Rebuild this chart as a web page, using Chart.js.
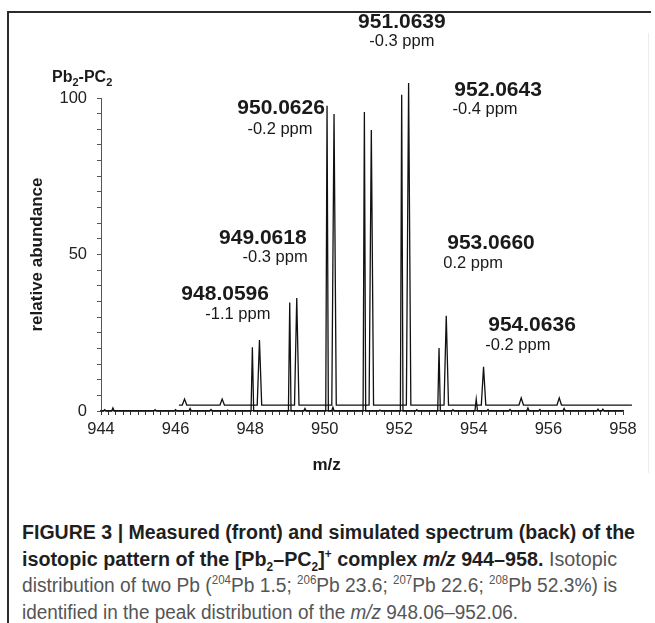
<!DOCTYPE html>
<html>
<head>
<meta charset="utf-8">
<script src="https://cdn.jsdelivr.net/npm/chart.js@4.4.1/dist/chart.umd.min.js"></script>
<style>
  html, body { margin: 0; padding: 0; background: #fff; }
  body { width: 655px; height: 623px; position: relative; overflow: hidden; font-family: "Liberation Sans", Arial, sans-serif; }
  #grafico { position: absolute; left: 0; top: 0; }
  .moldura-topo { position: absolute; left: 8px; top: 11px; width: 643px; height: 2px; background: #2b2b2b; }
  .moldura-esq { position: absolute; left: 7px; top: 11px; width: 2px; height: 612px; background: #2b2b2b; }
  .moldura-dir { position: absolute; left: 648px; top: 33px; width: 1px; height: 440px; background: #ececec; }
  #rotulo { position: absolute; left: 52px; top: 68px; font-weight: bold; font-size: 16px; color: #1a1a1a; }
  #rotulo sub { font-size: 11px; vertical-align: -4px; line-height: 0; }
  #legenda { position: absolute; left: 22px; top: 519px; font-size: 20px; line-height: 26.6px; color: #555; white-space: nowrap; }
  #legenda .linha { transform-origin: 0 50%; width: max-content; }
  #legenda b { color: #1f1f1f; }
  #legenda sub, #legenda sup { font-size: 12px; line-height: 0; }
</style>
</head>
<body>
<canvas id="grafico" width="655" height="480"></canvas>
<div class="moldura-topo"></div>
<div class="moldura-esq"></div>
<div class="moldura-dir"></div>
<div id="rotulo">Pb<sub>2</sub>-PC<sub>2</sub></div>
<div id="legenda">
<div class="linha" data-largura="613"><b>FIGURE 3 | Measured (front) and simulated spectrum (back) of the</b></div>
<div class="linha" data-largura="595"><b>isotopic pattern of the [Pb<sub>2</sub>–PC<sub>2</sub>]<sup>+</sup> complex <i>m/z</i> 944–958.</b> Isotopic</div>
<div class="linha" data-largura="595">distribution of two Pb (<sup>204</sup>Pb 1.5; <sup>206</sup>Pb 23.6; <sup>207</sup>Pb 22.6; <sup>208</sup>Pb 52.3%) is</div>
<div class="linha" data-largura="496">identified in the peak distribution of the <i>m/z</i> 948.06–952.06.</div>
</div>
<script>
// Espectro medido (frente): posição m/z e abundância relativa de cada pico
const mzMedido = [944.10, 944.32, 945.45, 946.00, 946.39, 946.95, 947.40, 948.0596, 949.0618, 949.47, 950.0626, 950.22,
                  951.0639, 951.48, 952.0643, 952.47, 953.0660, 953.44, 954.0636, 954.38, 954.97, 955.45, 955.77, 956.42, 957.33, 957.46];
const abundMedido = [0.4, 1.0, 0.4, 0.4, 0.8, 0.5, 0.3, 20.4, 34.7, 0.8, 97.5, 1.2,
                     95.5, 0.3, 101, 0.4, 20.1, 0.4, 3.8, 0.5, 0.5, 1.0, 0.5, 0.8, 0.6, 0.6];
const faixaMedido = [944, 958];

// Espectro simulado (fundo)
const mzSimulado = [946.05, 947.06, 948.06, 949.06, 950.06, 951.06, 952.06, 953.07, 954.07, 955.08, 956.10];
const abundSimulado = [1.9, 1.9, 20.8, 34.2, 93.0, 87.9, 102.9, 28.5, 12.2, 2.3, 2.3];
const faixaSimulado = [945.9, 958.05];

// Rótulos dos picos: massa medida e erro em ppm
const rotulosMassa = ["948.0596", "949.0618", "950.0626", "951.0639", "952.0643", "953.0660", "954.0636"];
const rotulosPpm = ["-1.1 ppm", "-0.3 ppm", "-0.2 ppm", "-0.3 ppm", "-0.4 ppm", "0.2 ppm", "-0.2 ppm"];

// onde cada rótulo fica (em unidades do gráfico)
const posMassa = [[947.33, 37.4], [948.34, 55.3], [948.83, 96.8], [952.07, 124.2], [954.65, 102.6], [954.46, 53.7], [955.56, 27.5]];
const posPpm = [[947.67, 31.0], [948.67, 49.2], [948.80, 90.1], [952.07, 118.2], [954.30, 96.2], [953.98, 47.0], [955.18, 20.8]];

// deslocamento do espectro de fundo (fica um pouco à direita e acima)
const deslocFundo = { x: 0.19, y: 1.9 };

// monta a linha do espectro: linha de base com um triângulo estreito em cada pico
function montarPerfil(mzs, alturas, meiaLargura, faixa, dx, base) {
    const pontos = [{ x: faixa[0] + dx, y: base }];
    mzs.forEach((m, i) => {
        const c = m + dx;
        pontos.push({ x: c - meiaLargura, y: base });
        pontos.push({ x: c, y: base + alturas[i] });
        pontos.push({ x: c + meiaLargura, y: base });
    });
    pontos.push({ x: faixa[1] + dx, y: base });
    return pontos;
}

const fonte = '"Liberation Sans", Arial, sans-serif';

// rótulos dos picos e o título do eixo x
const pluginRotulos = {
    id: "rotulos",
    afterDatasetsDraw(chart) {
        const { ctx, scales: { x, y } } = chart;
        ctx.save();
        ctx.textAlign = "center";
        ctx.textBaseline = "middle";
        ctx.fillStyle = "#1a1a1a";
        rotulosMassa.forEach((texto, i) => {
            ctx.font = "bold 21px " + fonte;
            ctx.fillText(texto, x.getPixelForValue(posMassa[i][0]), y.getPixelForValue(posMassa[i][1]));
            ctx.font = "16.5px " + fonte;
            ctx.fillText(rotulosPpm[i], x.getPixelForValue(posPpm[i][0]), y.getPixelForValue(posPpm[i][1]));
        });
        ctx.font = "bold 17px " + fonte;
        ctx.fillText("m/z", x.getPixelForValue(950.05), x.bottom - 9);
        ctx.restore();
    }
};

const ctx = document.getElementById("grafico").getContext("2d");

const grafico = new Chart(ctx, {
    type: "line",
    data: {
        datasets: [
            {
                label: "medido",
                data: montarPerfil(mzMedido, abundMedido, 0.035, faixaMedido, 0, 0),
                borderColor: "#111",
                borderWidth: 1.3,
                pointRadius: 0,
                tension: 0,
                clip: false
            },
            {
                label: "simulado",
                data: montarPerfil(mzSimulado, abundSimulado, 0.06, faixaSimulado, deslocFundo.x, deslocFundo.y),
                borderColor: "#111",
                borderWidth: 1.3,
                pointRadius: 0,
                tension: 0,
                clip: false
            }
        ]
    },
    options: {
        responsive: false,
        animation: false,
        layout: { padding: { left: 18, top: 98, right: 32, bottom: 6 } },
        plugins: { legend: { display: false }, tooltip: { enabled: false } },
        scales: {
            x: {
                type: "linear",
                min: 944,
                max: 958,
                ticks: {
                    stepSize: 0.2,
                    autoSkip: false,
                    maxRotation: 0,
                    padding: 5,
                    color: "#222",
                    font: { family: fonte, size: 16.5 },
                    callback: function (v) {
                        const r = Math.round(v);
                        return (Math.abs(v - r) < 1e-6 && r % 2 === 0) ? String(r) : "";
                    }
                },
                grid: { display: true, drawOnChartArea: false, drawTicks: true, tickLength: 4, color: "#333", lineWidth: 1 },
                border: { display: true, color: "#222", width: 1.3 },
                afterFit: function (escala) { escala.height = 63; }
            },
            y: {
                min: 0,
                max: 100,
                ticks: {
                    stepSize: 5,
                    autoSkip: false,
                    padding: 10,
                    color: "#222",
                    font: { family: fonte, size: 16.5 },
                    callback: function (v) { return v % 50 === 0 ? String(v) : ""; }
                },
                grid: { display: true, drawOnChartArea: false, drawTicks: true, tickLength: 4, color: "#555", lineWidth: 1 },
                border: { display: true, color: "#555", width: 1 },
                title: { display: true, text: "relative abundance", color: "#1a1a1a", font: { family: fonte, size: 17, weight: "bold" }, padding: { top: 9, bottom: 0 } },
                afterFit: function (escala) { escala.width = 83; }
            }
        }
    },
    plugins: [pluginRotulos]
});

// a legenda usa letra estreita: comprime cada linha até a largura indicada
document.querySelectorAll("#legenda .linha").forEach(l => {
    const fator = Number(l.dataset.largura) / l.getBoundingClientRect().width;
    l.style.transform = "scaleX(" + fator + ")";
});
</script>
</body>
</html>
